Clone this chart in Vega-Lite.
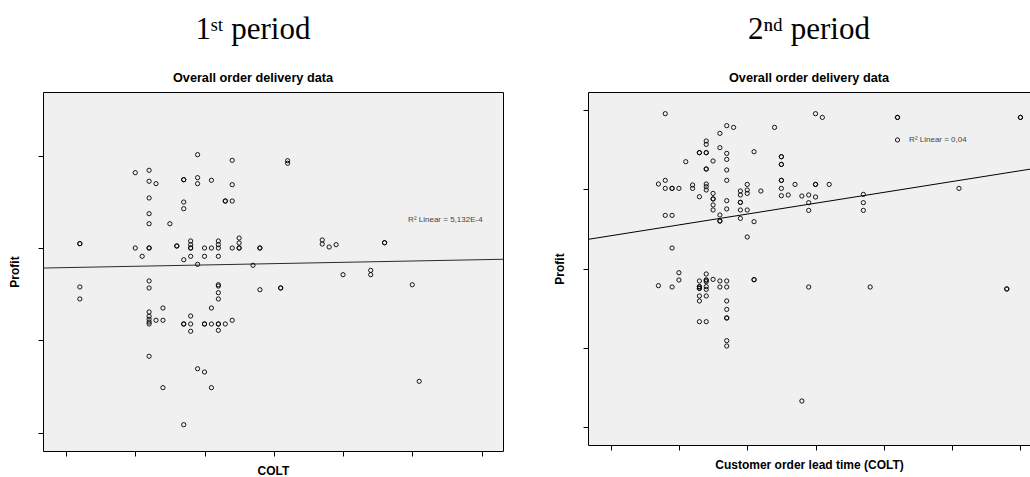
{
  "$schema": "https://vega.github.io/schema/vega-lite/v6.json",
  "background": "white",
  "padding": {"left": 8, "top": 13, "right": 0, "bottom": 0},
  "config": {
    "view": {"stroke": "black", "strokeWidth": 1, "fill": "#f0f0f0"},
    "axis": {
      "labels": false, "grid": false, "domain": false,
      "ticks": true, "tickColor": "black", "tickSize": 5, "tickWidth": 1,
      "titleFont": "Liberation Sans", "titleFontSize": 12, "titleFontWeight": "bold", "titleColor": "black"
    },
    "axisX": {"titlePadding": 8.5},
    "axisY": {"titlePadding": 16},
    "title": {
      "font": "'Liberation Serif', 'DejaVu Serif', serif", "fontSize": 31, "fontWeight": "normal", "color": "black",
      "anchor": "middle", "offset": 6,
      "subtitleFont": "Liberation Sans", "subtitleFontSize": 12.7, "subtitleFontWeight": "bold", "subtitleColor": "black",
      "subtitlePadding": 26
    }
  },
  "datasets": {
    "p1": [
      {"colt": 2, "profit": 2048}, {"colt": 2, "profit": 2048}, {"colt": 10, "profit": 2817},
      {"colt": 12, "profit": 2843}, {"colt": 12, "profit": 2724}, {"colt": 13, "profit": 2698},
      {"colt": 12, "profit": 2543}, {"colt": 12, "profit": 2373}, {"colt": 12, "profit": 2264},
      {"colt": 15, "profit": 2264}, {"colt": 17, "profit": 2741}, {"colt": 17, "profit": 2741},
      {"colt": 17, "profit": 2499}, {"colt": 17, "profit": 2427}, {"colt": 19, "profit": 3012},
      {"colt": 19, "profit": 2763}, {"colt": 19, "profit": 2698}, {"colt": 21, "profit": 2735},
      {"colt": 24, "profit": 2951}, {"colt": 24, "profit": 2687}, {"colt": 23, "profit": 2510},
      {"colt": 23, "profit": 2510}, {"colt": 24, "profit": 2510}, {"colt": 10, "profit": 2001},
      {"colt": 12, "profit": 2001}, {"colt": 12, "profit": 2001}, {"colt": 11, "profit": 1911},
      {"colt": 16, "profit": 2023}, {"colt": 16, "profit": 2023}, {"colt": 18, "profit": 2077},
      {"colt": 18, "profit": 2037}, {"colt": 18, "profit": 2001}, {"colt": 18, "profit": 2001},
      {"colt": 18, "profit": 1911}, {"colt": 17, "profit": 1874}, {"colt": 19, "profit": 1824},
      {"colt": 20, "profit": 2001}, {"colt": 21, "profit": 2001}, {"colt": 22, "profit": 2077},
      {"colt": 22, "profit": 2037}, {"colt": 22, "profit": 2001}, {"colt": 22, "profit": 1911},
      {"colt": 20, "profit": 1911}, {"colt": 24, "profit": 2001}, {"colt": 25, "profit": 2109},
      {"colt": 25, "profit": 2055}, {"colt": 25, "profit": 2001}, {"colt": 25, "profit": 2001},
      {"colt": 27, "profit": 1814}, {"colt": 28, "profit": 2001}, {"colt": 28, "profit": 2001},
      {"colt": 32, "profit": 2947}, {"colt": 32, "profit": 2919}, {"colt": 37, "profit": 2088},
      {"colt": 37, "profit": 2044}, {"colt": 38, "profit": 2012}, {"colt": 39, "profit": 2037},
      {"colt": 46, "profit": 2058}, {"colt": 46, "profit": 2058}, {"colt": 40, "profit": 1712},
      {"colt": 44, "profit": 1759}, {"colt": 44, "profit": 1712}, {"colt": 28, "profit": 1549},
      {"colt": 31, "profit": 1568}, {"colt": 31, "profit": 1568}, {"colt": 50, "profit": 1603},
      {"colt": 51, "profit": 557}, {"colt": 2, "profit": 1579}, {"colt": 2, "profit": 1449},
      {"colt": 12, "profit": 1644}, {"colt": 12, "profit": 1568}, {"colt": 12, "profit": 1308},
      {"colt": 12, "profit": 1261}, {"colt": 12, "profit": 1229}, {"colt": 12, "profit": 1199},
      {"colt": 12, "profit": 1178}, {"colt": 13, "profit": 1218}, {"colt": 14, "profit": 1351},
      {"colt": 14, "profit": 1218}, {"colt": 17, "profit": 1178}, {"colt": 17, "profit": 1178},
      {"colt": 18, "profit": 1264}, {"colt": 18, "profit": 1178}, {"colt": 18, "profit": 1099},
      {"colt": 20, "profit": 1178}, {"colt": 20, "profit": 1178}, {"colt": 21, "profit": 1351},
      {"colt": 21, "profit": 1178}, {"colt": 22, "profit": 1603}, {"colt": 22, "profit": 1589},
      {"colt": 22, "profit": 1517}, {"colt": 22, "profit": 1449}, {"colt": 22, "profit": 1178},
      {"colt": 22, "profit": 1178}, {"colt": 22, "profit": 1109}, {"colt": 23, "profit": 1178},
      {"colt": 24, "profit": 1218}, {"colt": 12, "profit": 828}, {"colt": 19, "profit": 693},
      {"colt": 20, "profit": 658}, {"colt": 14, "profit": 488}, {"colt": 21, "profit": 488},
      {"colt": 17, "profit": 87}
    ],
    "p2": [
      {"colt": 8, "profit": 3951}, {"colt": 17, "profit": 3800}, {"colt": 18, "profit": 3778},
      {"colt": 16, "profit": 3703}, {"colt": 24, "profit": 3778}, {"colt": 14, "profit": 3607},
      {"colt": 14, "profit": 3564}, {"colt": 13, "profit": 3460}, {"colt": 13, "profit": 3460},
      {"colt": 14, "profit": 3460}, {"colt": 14, "profit": 3460}, {"colt": 16, "profit": 3523},
      {"colt": 17, "profit": 3451}, {"colt": 17, "profit": 3375}, {"colt": 15, "profit": 3355},
      {"colt": 11, "profit": 3346}, {"colt": 21, "profit": 3472}, {"colt": 25, "profit": 3409},
      {"colt": 25, "profit": 3409}, {"colt": 25, "profit": 3312}, {"colt": 25, "profit": 3312},
      {"colt": 14, "profit": 3254}, {"colt": 14, "profit": 3254}, {"colt": 17, "profit": 3242},
      {"colt": 17, "profit": 3111}, {"colt": 25, "profit": 3111}, {"colt": 25, "profit": 3111},
      {"colt": 25, "profit": 3010}, {"colt": 25, "profit": 2918}, {"colt": 26, "profit": 2927},
      {"colt": 7, "profit": 3065}, {"colt": 8, "profit": 3111}, {"colt": 8, "profit": 3010},
      {"colt": 9, "profit": 3010}, {"colt": 9, "profit": 3010}, {"colt": 10, "profit": 3010},
      {"colt": 12, "profit": 3053}, {"colt": 12, "profit": 3010}, {"colt": 14, "profit": 3065},
      {"colt": 14, "profit": 3031}, {"colt": 14, "profit": 2990}, {"colt": 13, "profit": 2905},
      {"colt": 15, "profit": 2947}, {"colt": 15, "profit": 2877}, {"colt": 15, "profit": 2877},
      {"colt": 15, "profit": 2801}, {"colt": 15, "profit": 2738}, {"colt": 17, "profit": 2855},
      {"colt": 17, "profit": 2751}, {"colt": 19, "profit": 2977}, {"colt": 19, "profit": 2927},
      {"colt": 19, "profit": 2834}, {"colt": 19, "profit": 2834}, {"colt": 20, "profit": 3060},
      {"colt": 20, "profit": 2990}, {"colt": 20, "profit": 2947}, {"colt": 22, "profit": 2977},
      {"colt": 19, "profit": 2738}, {"colt": 20, "profit": 2738}, {"colt": 19, "profit": 2632},
      {"colt": 16, "profit": 2675}, {"colt": 16, "profit": 2599}, {"colt": 16, "profit": 2599},
      {"colt": 21, "profit": 2591}, {"colt": 20, "profit": 2398}, {"colt": 8, "profit": 2670},
      {"colt": 9, "profit": 2670}, {"colt": 9, "profit": 2259}, {"colt": 10, "profit": 1948},
      {"colt": 10, "profit": 1856}, {"colt": 14, "profit": 1932}, {"colt": 14, "profit": 1856},
      {"colt": 14, "profit": 1856}, {"colt": 14, "profit": 1835}, {"colt": 13, "profit": 1844},
      {"colt": 15, "profit": 1864}, {"colt": 16, "profit": 1844}, {"colt": 17, "profit": 1844},
      {"colt": 21, "profit": 1860}, {"colt": 21, "profit": 1860}, {"colt": 7, "profit": 1785},
      {"colt": 9, "profit": 1768}, {"colt": 13, "profit": 1772}, {"colt": 13, "profit": 1772},
      {"colt": 13, "profit": 1751}, {"colt": 13, "profit": 1751}, {"colt": 13, "profit": 1655},
      {"colt": 13, "profit": 1592}, {"colt": 14, "profit": 1772}, {"colt": 14, "profit": 1738},
      {"colt": 14, "profit": 1655}, {"colt": 16, "profit": 1768}, {"colt": 17, "profit": 1768},
      {"colt": 17, "profit": 1592}, {"colt": 17, "profit": 1486}, {"colt": 17, "profit": 1378},
      {"colt": 17, "profit": 1378}, {"colt": 17, "profit": 1092}, {"colt": 17, "profit": 1025},
      {"colt": 13, "profit": 1331}, {"colt": 14, "profit": 1331}, {"colt": 29, "profit": 1768},
      {"colt": 38, "profit": 1768}, {"colt": 58, "profit": 1743}, {"colt": 58, "profit": 1743},
      {"colt": 28, "profit": 332}, {"colt": 30, "profit": 3951}, {"colt": 31, "profit": 3904},
      {"colt": 42, "profit": 3904}, {"colt": 42, "profit": 3904}, {"colt": 60, "profit": 3904},
      {"colt": 60, "profit": 3904}, {"colt": 27, "profit": 3060}, {"colt": 30, "profit": 3060},
      {"colt": 30, "profit": 3060}, {"colt": 32, "profit": 3060}, {"colt": 28, "profit": 2914},
      {"colt": 29, "profit": 2927}, {"colt": 30, "profit": 2902}, {"colt": 29, "profit": 2830},
      {"colt": 29, "profit": 2733}, {"colt": 37, "profit": 2934}, {"colt": 37, "profit": 2830},
      {"colt": 37, "profit": 2733}, {"colt": 51, "profit": 3010}
    ],
    "fit1": [{"colt": -3.32, "profit": 1784}, {"colt": 63.1, "profit": 1879}],
    "fit2": [{"colt": -3.31, "profit": 2368}, {"colt": 61.4, "profit": 3252}],
    "note1": [{"colt": 49.4, "profit": 2308, "label": "R² Linear = 5,132E-4"}],
    "note2": [{"colt": 43.7, "profit": 3620, "label": "R² Linear = 0,04"}],
    "key2": [{"colt": 42, "profit": 3620}]
  },
  "hconcat": [
    {
      "width": 460,
      "height": 359,
      "title": {"text": "1ˢᵗ period", "subtitle": "Overall order delivery data", "dx": -20},
      "encoding": {
        "x": {"field": "colt", "type": "quantitative",
              "scale": {"domain": [-3.32, 63.1], "nice": false, "zero": false},
              "axis": {"values": [0, 10, 20, 30, 40, 50, 60], "title": "COLT"}},
        "y": {"field": "profit", "type": "quantitative",
              "scale": {"domain": [-198, 3691], "nice": false, "zero": false},
              "axis": {"values": [0, 1000, 2000, 3000], "title": "Profit"}}
      },
      "layer": [
        {"data": {"name": "fit1"}, "mark": {"type": "line", "color": "#2a2a2a", "strokeWidth": 1}},
        {"data": {"name": "p1"}, "mark": {"type": "point", "shape": "circle", "filled": false, "size": 18, "stroke": "black", "strokeWidth": 0.9, "opacity": 1}},
        {"data": {"name": "note1"}, "mark": {"type": "text", "align": "left", "baseline": "middle", "font": "Liberation Sans", "fontSize": 8, "color": "#444"},
         "encoding": {"text": {"field": "label"}}}
      ]
    },
    {
      "width": 442,
      "height": 353,
      "title": {"text": "2ⁿᵈ period", "subtitle": "Overall order delivery data"},
      "encoding": {
        "x": {"field": "colt", "type": "quantitative",
              "scale": {"domain": [-3.31, 61.4], "nice": false, "zero": false},
              "axis": {"values": [0, 10, 20, 30, 40, 50, 60], "title": "Customer order lead time (COLT)"}},
        "y": {"field": "profit", "type": "quantitative",
              "scale": {"domain": [-222, 4224], "nice": false, "zero": false},
              "axis": {"values": [0, 1000, 2000, 3000, 4000], "title": "Profit"}}
      },
      "layer": [
        {"data": {"name": "fit2"}, "mark": {"type": "line", "color": "black", "strokeWidth": 1}},
        {"data": {"name": "p2"}, "mark": {"type": "point", "shape": "circle", "filled": false, "size": 18, "stroke": "black", "strokeWidth": 0.9, "opacity": 1}},
        {"data": {"name": "key2"}, "mark": {"type": "point", "shape": "circle", "filled": false, "size": 18, "stroke": "black", "strokeWidth": 0.9, "opacity": 1}},
        {"data": {"name": "note2"}, "mark": {"type": "text", "align": "left", "baseline": "middle", "font": "Liberation Sans", "fontSize": 8, "color": "#444"},
         "encoding": {"text": {"field": "label"}}}
      ]
    }
  ],
  "spacing": 85,
  "bounds": "flush"
}
